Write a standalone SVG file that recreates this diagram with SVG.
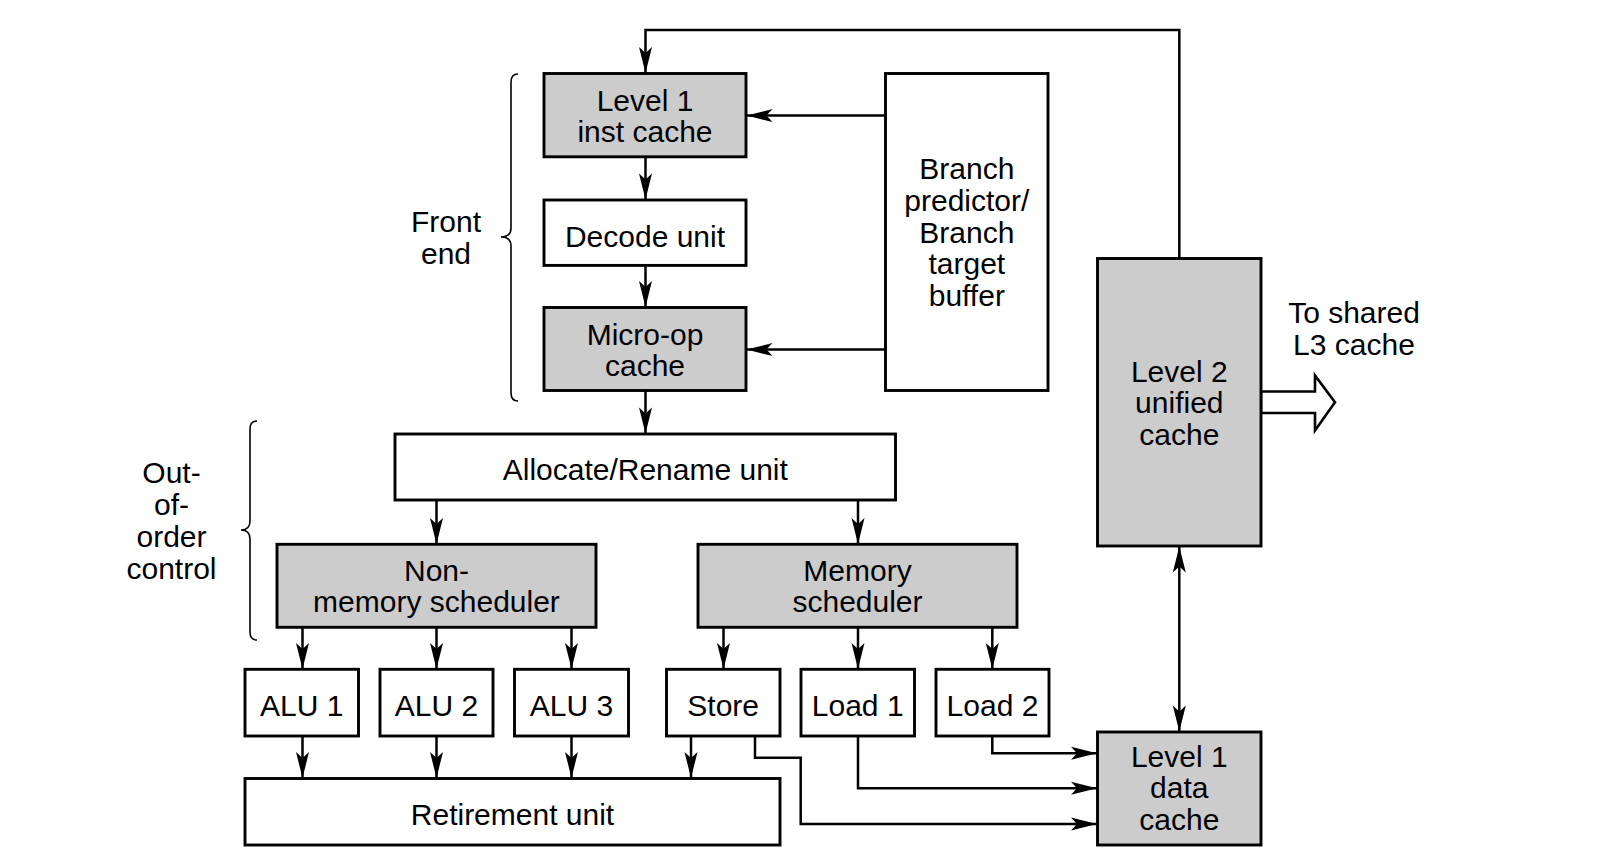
<svg xmlns="http://www.w3.org/2000/svg" width="1607" height="855" viewBox="0 0 1607 855">
<style>
  .box { stroke: #000; stroke-width: 2.9; fill: #fff; }
  .gray { fill: #cccccc; }
  .lbl { font-family: "Liberation Sans", Arial, Helvetica, sans-serif; font-size: 30px; fill: #000; text-anchor: middle; }
  .con { fill: none; stroke: #000; stroke-width: 2.5; }
  .brace { fill: none; stroke: #000; stroke-width: 1.6; }
</style>
<defs>
  <marker id="ah" viewBox="-28 -8 30 16" refX="0" refY="0" markerWidth="30" markerHeight="16" markerUnits="userSpaceOnUse" orient="auto-start-reverse">
    <path d="M0,0 L-26,-6.5 L-20,0 L-26,6.5 Z" fill="#000"/>
  </marker>
</defs>
<rect width="1607" height="855" fill="#fff"/>

<g id="connectors">
  <path class="con" d="M1179.3,258.5 V30 H645.5 V73" marker-end="url(#ah)"/>
  <path class="con" d="M885.5,115.5 H746.5" marker-end="url(#ah)"/>
  <path class="con" d="M885.5,349.5 H746.5" marker-end="url(#ah)"/>
  <path class="con" d="M645.5,156.8 V199.5" marker-end="url(#ah)"/>
  <path class="con" d="M645.5,265.4 V307" marker-end="url(#ah)"/>
  <path class="con" d="M645.5,390.5 V433.5" marker-end="url(#ah)"/>
  <path class="con" d="M436.5,500 V544" marker-end="url(#ah)"/>
  <path class="con" d="M858,500 V544" marker-end="url(#ah)"/>
  <path class="con" d="M302.5,627.3 V669" marker-end="url(#ah)"/>
  <path class="con" d="M436.5,627.3 V669" marker-end="url(#ah)"/>
  <path class="con" d="M571.5,627.3 V669" marker-end="url(#ah)"/>
  <path class="con" d="M723.5,627.3 V669" marker-end="url(#ah)"/>
  <path class="con" d="M858,627.3 V669" marker-end="url(#ah)"/>
  <path class="con" d="M992.3,627.3 V669" marker-end="url(#ah)"/>
  <path class="con" d="M302.5,736 V778" marker-end="url(#ah)"/>
  <path class="con" d="M436.5,736 V778" marker-end="url(#ah)"/>
  <path class="con" d="M571.5,736 V778" marker-end="url(#ah)"/>
  <path class="con" d="M691,736 V778" marker-end="url(#ah)"/>
  <path class="con" d="M755,736 V757.7 H800.7 V824 H1097" marker-end="url(#ah)"/>
  <path class="con" d="M858,736 V788.3 H1097" marker-end="url(#ah)"/>
  <path class="con" d="M992.3,736 V753.3 H1097" marker-end="url(#ah)"/>
  <path class="con" d="M1179.3,546.5 V731.5" marker-start="url(#ah)" marker-end="url(#ah)"/>
  <polygon points="1261,391.5 1315,391.5 1315,375.5 1335,402.3 1315,430.5 1315,413 1261,413" fill="#fff" stroke="#000" stroke-width="2.6"/>
</g>

<g id="front-end-brace">
  <path class="brace" d="M518,74 Q511,74 511,82 V228 Q511,237 501,237 Q511,237 511,246 V393 Q511,401 518,401"/>
  <text class="lbl" x="446" y="232">Front</text>
  <text class="lbl" x="446" y="263.5">end</text>
</g>

<g id="ooo-brace">
  <path class="brace" d="M257,421 Q250,421 250,429 V521 Q250,530 241,530 Q250,530 250,539 V632 Q250,640 257,640"/>
  <text class="lbl" x="171.5" y="483">Out-</text>
  <text class="lbl" x="171.5" y="515">of-</text>
  <text class="lbl" x="171.5" y="547">order</text>
  <text class="lbl" x="171.5" y="578.5">control</text>
</g>

<g id="l1-inst-cache">
  <rect class="box gray" x="544" y="73.5" width="202" height="83.3"/>
  <text class="lbl" x="645" y="110.5">Level 1</text>
  <text class="lbl" x="645" y="142">inst cache</text>
</g>

<g id="decode-unit">
  <rect class="box" x="544" y="200" width="202" height="65.4"/>
  <text class="lbl" x="645" y="246.5">Decode unit</text>
</g>

<g id="micro-op-cache">
  <rect class="box gray" x="544" y="307.5" width="202" height="83"/>
  <text class="lbl" x="645" y="344.5">Micro-op</text>
  <text class="lbl" x="645" y="376">cache</text>
</g>

<g id="branch-predictor">
  <rect class="box" x="885.5" y="73.5" width="162.5" height="317"/>
  <text class="lbl" x="966.8" y="179">Branch</text>
  <text class="lbl" x="966.8" y="211">predictor/</text>
  <text class="lbl" x="966.8" y="242.5">Branch</text>
  <text class="lbl" x="966.8" y="274">target</text>
  <text class="lbl" x="966.8" y="305.5">buffer</text>
</g>

<g id="allocate-rename">
  <rect class="box" x="395" y="434" width="500.5" height="66"/>
  <text class="lbl" x="645.3" y="480">Allocate/Rename unit</text>
</g>

<g id="non-memory-scheduler">
  <rect class="box gray" x="277" y="544.3" width="319" height="83"/>
  <text class="lbl" x="436.5" y="580.5">Non-</text>
  <text class="lbl" x="436.5" y="612">memory scheduler</text>
</g>

<g id="memory-scheduler">
  <rect class="box gray" x="698" y="544.3" width="319" height="83"/>
  <text class="lbl" x="857.5" y="580.5">Memory</text>
  <text class="lbl" x="857.5" y="612">scheduler</text>
</g>

<g id="alu1">
  <rect class="box" x="245" y="669.3" width="113.5" height="66.7"/>
  <text class="lbl" x="301.7" y="715.5">ALU 1</text>
</g>
<g id="alu2">
  <rect class="box" x="380" y="669.3" width="113" height="66.7"/>
  <text class="lbl" x="436.5" y="715.5">ALU 2</text>
</g>
<g id="alu3">
  <rect class="box" x="514.5" y="669.3" width="114" height="66.7"/>
  <text class="lbl" x="571.5" y="715.5">ALU 3</text>
</g>
<g id="store">
  <rect class="box" x="666.5" y="669.3" width="113.5" height="66.7"/>
  <text class="lbl" x="723.2" y="715.5">Store</text>
</g>
<g id="load1">
  <rect class="box" x="801" y="669.3" width="113.5" height="66.7"/>
  <text class="lbl" x="857.7" y="715.5">Load 1</text>
</g>
<g id="load2">
  <rect class="box" x="936" y="669.3" width="113" height="66.7"/>
  <text class="lbl" x="992.5" y="715.5">Load 2</text>
</g>

<g id="retirement-unit">
  <rect class="box" x="245" y="778.5" width="535" height="66.5"/>
  <text class="lbl" x="512.5" y="824.5">Retirement unit</text>
</g>

<g id="l2-unified-cache">
  <rect class="box gray" x="1097.5" y="258.5" width="163.5" height="287.5"/>
  <text class="lbl" x="1179.3" y="381.5">Level 2</text>
  <text class="lbl" x="1179.3" y="413">unified</text>
  <text class="lbl" x="1179.3" y="444.5">cache</text>
</g>

<g id="l1-data-cache">
  <rect class="box gray" x="1097.5" y="732" width="163.5" height="113"/>
  <text class="lbl" x="1179.3" y="766.5">Level 1</text>
  <text class="lbl" x="1179.3" y="798">data</text>
  <text class="lbl" x="1179.3" y="830">cache</text>
</g>

<g id="l3-label">
  <text class="lbl" x="1354" y="322.5">To shared</text>
  <text class="lbl" x="1354" y="354.5">L3 cache</text>
</g>
</svg>
